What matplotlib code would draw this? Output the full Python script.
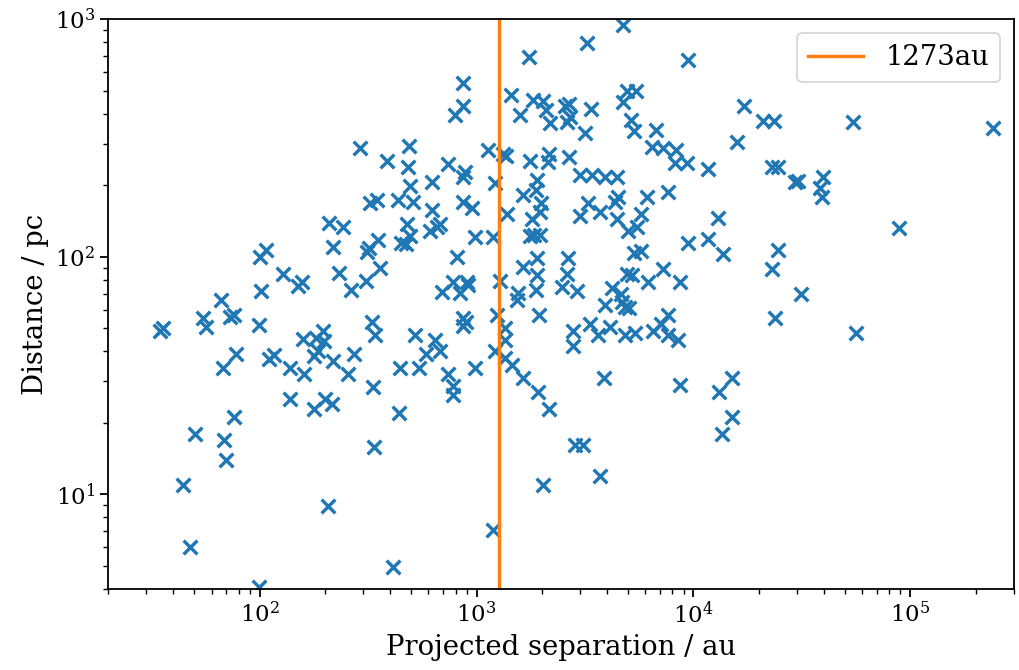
import numpy as np
import matplotlib
matplotlib.use("Agg")
import matplotlib.pyplot as plt

plt.rcParams['font.family'] = 'serif'
plt.rcParams['font.serif'] = ['DejaVu Serif']
plt.rcParams['mathtext.fontset'] = 'dejavuserif'

# projected separation (au) and distance (pc)
sep_au = [
    1743, 865, 865, 794, 1440, 1818, 2023, 2088, 1584, 2179,
    289, 386, 487, 482, 737, 883, 865, 1128, 1322, 1365,
    1762, 2156, 2133, 622, 492, 1215, 1898, 1878, 1636, 1981,
    347, 322, 433, 508, 865,
    4732, 3228, 9443, 4939, 5434, 4732, 2555, 2667, 2695, 2611,
    3369, 3161, 5152, 5320, 6722, 6442, 7239, 8313, 8226, 9344,
    2667, 2998, 3405, 3909, 4442, 11680, 15890, 17120, 20950, 23540,
    23060, 24570, 3263, 4487, 4347, 6107, 7634,
    54520, 241300, 29430, 30380, 39630, 38380, 39210,
    208, 219, 107, 100, 128, 150, 156, 101, 66.1, 55.1,
    56.3, 72.7, 75.9, 98.9, 34.6, 35.7, 158, 181, 195, 197,
    185, 179, 77.5, 67.5, 111, 117, 138, 160,
    622, 951, 242, 477, 492, 447, 472, 609, 656, 677,
    350, 312, 318, 982, 1189, 1380, 1800, 1960, 1762, 1838,
    1960, 811, 231, 358, 308, 263, 777, 902, 912, 837,
    692, 1281, 1636, 1898, 1898, 1878, 1551, 1535, 1940, 865,
    893, 865, 1241, 1351, 1351, 329, 339, 519, 642, 583,
    677, 271, 217, 1215, 1351, 1455, 1636, 443, 541, 982,
    737, 255, 332, 777, 777, 1918,
    2998, 3707, 4442, 5731, 5492, 4992, 13000, 9443, 11680, 13700,
    24570, 23060, 2638, 5320, 5731, 2611, 2475, 2904, 4939, 5208,
    7239, 6172, 8675, 4212, 4633, 4683, 4835, 5044, 3909, 2782,
    2782, 3333, 3630, 4122, 4835, 5377, 6511, 7089, 7634, 7634,
    8490, 23800, 3868, 8675, 15080, 13130,
    88900, 31370, 56290,
    138, 178, 200, 215, 75.9, 50.1, 68.2, 69.7, 44.1, 206,
    48.0, 99,
    438, 336, 2156, 2023, 1189, 411,
    2841, 3094, 3707, 15080, 13550,
]
dist_pc = [
    696, 541, 433, 397, 482, 459, 455, 417, 397, 367,
    288, 254, 294, 240, 247, 228, 218, 283, 270, 267,
    254, 272, 252, 207, 198, 205, 211, 192, 183, 168,
    174, 169, 174, 171, 171,
    950, 798, 676, 501, 501, 450, 433, 442, 389, 371,
    421, 333, 378, 340, 343, 291, 288, 283, 249, 249,
    264, 222, 222, 216, 218, 235, 306, 433, 375, 375,
    238, 238, 168, 178, 171, 179, 188,
    371, 350, 207, 209, 216, 196, 179,
    139, 110, 107, 100, 85.1, 75.7, 78.7, 72.2, 66.1, 55.5,
    50.9, 56.1, 57.2, 51.9, 49.0, 50.4, 45.3, 45.7, 49.0, 44.4,
    40.0, 38.1, 39.2, 34.2, 37.3, 38.8, 34.2, 32.0,
    157, 160, 134, 137, 122, 115, 113, 128, 134, 137,
    118, 105, 109, 121, 121, 151, 144, 155, 122, 124,
    124, 100, 85.9, 90.2, 79.5, 72.8, 78.7, 78.7, 76.5, 70.8,
    71.5, 79.5, 91.0, 99.3, 84.2, 72.8, 70.8, 66.1, 57.2, 55.5,
    53.4, 51.4, 57.2, 50.4, 44.9, 53.4, 47.1, 47.1, 44.9, 39.2,
    40.0, 39.2, 36.3, 40.0, 37.7, 35.2, 31.0, 34.2, 34.2, 34.2,
    32.0, 32.0, 28.2, 28.5, 26.3, 27.1,
    148, 154, 144, 152, 134, 128, 146, 115, 119, 103,
    107, 89.3, 99.3, 104, 106, 85.1, 75.0, 72.2, 85.1, 84.2,
    89.3, 78.7, 78.7, 74.3, 70.1, 64.9, 61.8, 61.2, 63.0, 49.0,
    42.0, 52.4, 47.1, 50.9, 47.1, 48.0, 49.0, 52.4, 57.2, 47.1,
    44.9, 55.5, 31.0, 29.0, 31.0, 27.1,
    132, 70.1, 48.0,
    25.3, 23.0, 25.3, 24.1, 21.1, 18.0, 17.0, 14.0, 11.0, 8.98,
    5.98, 4.06,
    22.1, 15.9, 23.0, 11.0, 7.05, 4.97,
    16.1, 16.1, 12.0, 21.1, 18.0,
]
cut_au = 1273

fig = plt.figure(figsize=(10.19, 6.7), dpi=100)
ax = fig.add_axes([0.106, 0.121, 0.889, 0.85])

ax.scatter(sep_au, dist_pc, marker='x', s=98, linewidths=2.45, color='#1f77b4')
ax.axvline(cut_au, color='#ff7f0e', lw=2.45, label=f'{cut_au}au')

ax.set_xscale('log')
ax.set_yscale('log')
ax.set_xlim(20, 3e5)
ax.set_ylim(4, 1000)

ax.set_xlabel('Projected separation / au', fontsize=19.8)
ax.set_ylabel('Distance / pc', fontsize=19.8)
ax.tick_params(which='major', labelsize=16.5, length=5.8, width=1.3)
ax.tick_params(which='minor', length=3.3, width=1.0)
for sp in ax.spines.values():
    sp.set_linewidth(1.3)

leg = ax.legend(loc='upper right', fontsize=19.8, handlelength=2.0)
leg.get_frame().set_linewidth(1.3)

fig.savefig('out.png', dpi=100)
